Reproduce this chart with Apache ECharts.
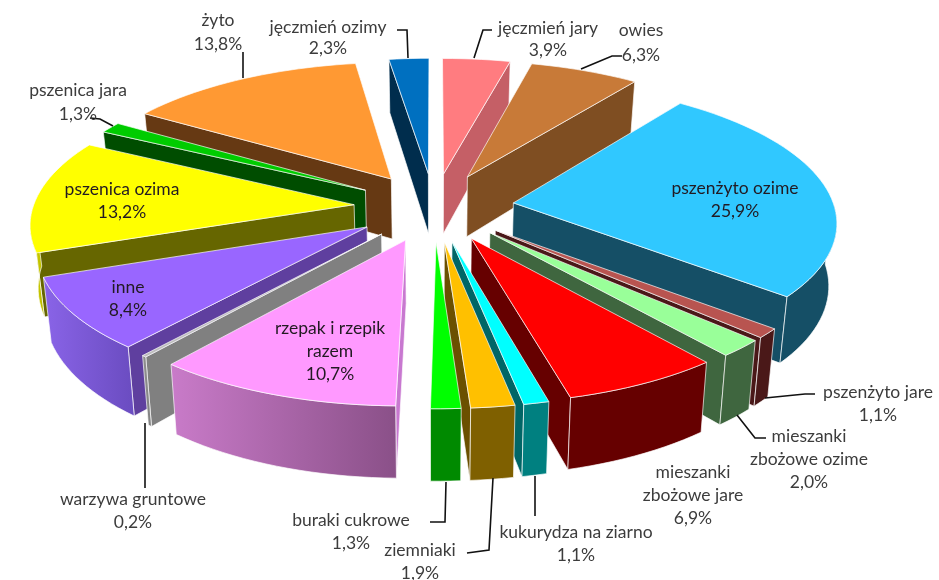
<!DOCTYPE html>
<html>
<head>
<meta charset="utf-8">
<style>html,body{margin:0;padding:0;background:#fff}#c{width:939px;height:580px}</style>
<script src="https://cdn.jsdelivr.net/npm/echarts@6/dist/echarts.min.js"></script>
</head>
<body>
<div id="c"></div>
<script>
// ---- data (clockwise from 12 o'clock) ----
const names = ['jęczmień jary','owies','pszenżyto ozime','pszenżyto jare','mieszanki zbożowe ozime','mieszanki zbożowe jare','kukurydza na ziarno','ziemniaki','buraki cukrowe','rzepak i rzepik razem','warzywa gruntowe','inne','pszenica ozima','pszenica jara','żyto','jęczmień ozimy'];
const values = [3.9,6.3,25.9,1.1,2.0,6.9,1.1,1.9,1.3,10.7,0.2,8.4,13.2,1.3,13.8,2.3];
const valueText = ['3,9%','6,3%','25,9%','1,1%','2,0%','6,9%','1,1%','1,9%','1,3%','10,7%','0,2%','8,4%','13,2%','1,3%','13,8%','2,3%'];

// ---- styles ----
const topColors  = ['#FF7C80','#C87A38','#30C8FF','#B85450','#99FF99','#FF0000','#00FFFF','#FFC000','#00FF00','#FF99FF','#BDBDBD','#9966FF','#FFFF00','#00CC00','#FF9933','#0070C0'];
const sideColors = ['#C55F66','#7F4E22','#154F66','#4A1818','#3F663F','#660000','#006666','#6B5000','#007A00','#C878D0','#808080','#5F3F9F','#666600','#004D00','#663913','#002D4D'];
const outerLeft  = ['#C55F66','#7F4E22','#154F66','#4A1818','#3F663F','#660000','#008080','#7F6000','#008A00','#C97BC9','#909090','#8A64E8','#D8D800','#004D00','#663913','#002D4D'];
const outerRight = ['#C55F66','#7F4E22','#154F66','#4A1818','#3F663F','#660000','#008080','#7F6000','#008A00','#8A5088','#808080','#6A4CC0','#B8B800','#004D00','#663913','#002D4D'];

// ---- projection ----
const CX = 434, CY = 207, A = 321, B = 137, K = 0.121, EXPLODE = 0.25, WALL = 61.5, SHRINK = 0.98;
const total = values.reduce((a, b) => a + b, 0);
const DEG = Math.PI / 180;
function top3d(X, Y) { const w = 1 - K * Y; return [CX + A * X / w, CY + B * Y / w]; }
function bot3d(X, Y) { const w = 1 - K * Y; return [CX + SHRINK * A * X / w, CY + B * Y / w + WALL / w]; }

// ---- label layout: [lines of text, centre x list, first y, line step] ----
const labelLines = [
  ['jęczmień jary'], ['owies'], ['pszenżyto ozime'], ['pszenżyto jare'], ['mieszanki','zbożowe ozime'],
  ['mieszanki','zbożowe jare'], ['kukurydza na ziarno'], ['ziemniaki'], ['buraki cukrowe'], ['rzepak i rzepik','razem'],
  ['warzywa gruntowe'], ['inne'], ['pszenica ozima'], ['pszenica jara'], ['żyto'], ['jęczmień ozimy']
];
const labelPos = [[548,28,22],[641,30,25],[735,188,23],[878,392,23],[809,436,23],[693,472,23],[576,532,23],[420,550,23],[351,520,23],[330,328,23],[133,499,23],[128,287,23],[122,189,23],[78,90,24],[218,20,24],[328,27,21]];
const leaders = [
  [[474,58],[483,30],[492,30]], [[581,69],[612,56],[622,56]], null,
  [[765,398],[805,394],[815,394]], [[737,415],[755,438],[766,438]], null,
  [[535,476],[535,516]], [[493,478],[489,550],[467,553]], [[446,482],[445,522],[430,522]], null,
  [[145,423],[145,488]], null, null,
  [[113,126],[100,119],[90,118]], [[243,78],[243,52]], [[408,58],[407,30],[397,30]]
];

// ---- slice angles ----
let cum = 0;
const slices = values.map((v, i) => {
  const a0 = cum / total * 360; cum += v; const a1 = cum / total * 360;
  return { i, a0, a1, mid: (a0 + a1) / 2 };
});
// painter's order: far slices first
const order = slices.slice().sort((p, q) => -Math.cos(p.mid * DEG) - (-Math.cos(q.mid * DEG))).map(s => s.i);

const edge = { stroke: 'rgba(255,255,255,0.75)', lineWidth: 0.9, lineJoin: 'round' };
function poly(points, fill) {
  return { type: 'polygon', shape: { points }, style: Object.assign({ fill }, edge) };
}
function renderSlice(params, api) {
  const i = api.value(1);
  const s = slices[i];
  const tx = EXPLODE * Math.sin(s.mid * DEG), ty = -EXPLODE * Math.cos(s.mid * DEG);
  const pt = (deg, fn) => fn(tx + Math.sin(deg * DEG), ty - Math.cos(deg * DEG));
  const children = [];
  // radial walls that face the viewer
  if (Math.sin(s.a1 * DEG) > 0.001) {
    children.push(poly([top3d(tx, ty), pt(s.a1, top3d), pt(s.a1, bot3d), bot3d(tx, ty)], sideColors[i]));
  }
  if (Math.sin(s.a0 * DEG) < -0.001) {
    children.push(poly([top3d(tx, ty), pt(s.a0, top3d), pt(s.a0, bot3d), bot3d(tx, ty)], sideColors[i]));
  }
  // outer wall, front-facing part only
  const o0 = Math.max(s.a0, 90), o1 = Math.min(s.a1, 270);
  if (o1 > o0) {
    const n = Math.max(2, Math.ceil((o1 - o0) / 2));
    const up = [], down = [];
    for (let k = 0; k <= n; k++) {
      const d = o0 + (o1 - o0) * k / n;
      up.push(pt(d, top3d)); down.unshift(pt(d, bot3d));
    }
    children.push(poly(up.concat(down), {
      type: 'linear', x: 0, y: 0, x2: 1, y2: 0,
      colorStops: [{ offset: 0, color: outerLeft[i] }, { offset: 1, color: outerRight[i] }]
    }));
  }
  // top face
  const pts = [top3d(tx, ty)];
  const n = Math.max(2, Math.ceil((s.a1 - s.a0) / 2));
  for (let k = 0; k <= n; k++) pts.push(pt(s.a0 + (s.a1 - s.a0) * k / n, top3d));
  children.push(poly(pts, topColors[i]));
  return { type: 'group', children };
}
function renderLabel(params, api) {
  const i = api.value(1);
  const [x, y, step] = labelPos[i];
  const inside = [2, 9, 11, 12].includes(i);
  const children = [];
  if (leaders[i]) {
    children.push({ type: 'polyline', shape: { points: leaders[i] }, style: { stroke: '#111', lineWidth: 1.6, fill: null } });
  }
  labelLines[i].concat(valueText[i]).forEach((line, k) => {
    children.push({ type: 'text', style: {
      text: line, x, y: y + k * step, align: 'center', verticalAlign: 'middle',
      font: '17.5px Lato, "Open Sans", sans-serif', fill: inside ? '#221a22' : '#3c3c3c'
    }});
  });
  return { type: 'group', children };
}

const chart = echarts.init(document.getElementById('c'), null, { renderer: 'canvas' });
chart.setOption({
  backgroundColor: '#fff',
  animation: false,
  tooltip: { show: false },
  series: [
    { type: 'custom', coordinateSystem: 'none', silent: true, z: 2, renderItem: renderSlice,
      dimensions: ['value', 'index'],
      data: order.map(i => ({ name: names[i], value: [values[i], i] })) },
    { type: 'custom', coordinateSystem: 'none', silent: true, z: 5, renderItem: renderLabel,
      dimensions: ['value', 'index'],
      data: names.map((n, i) => ({ name: n, value: [values[i], i] })) }
  ]
});
</script>
</body>
</html>
